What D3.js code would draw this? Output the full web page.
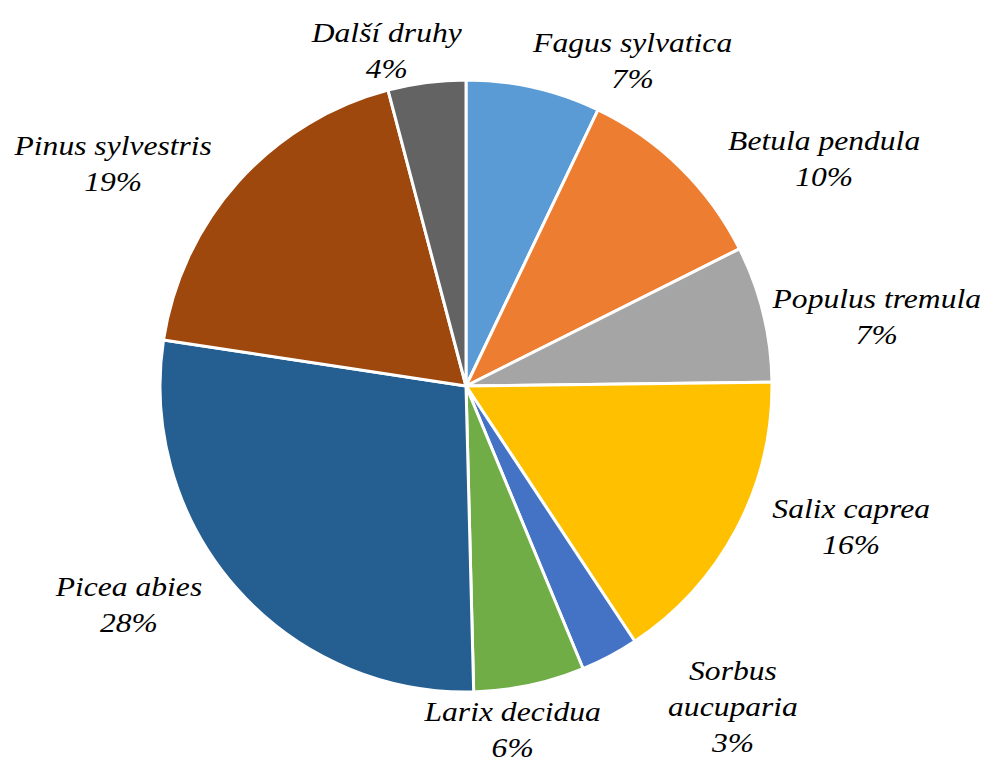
<!DOCTYPE html>
<html>
<head>
<meta charset="utf-8">
<script src="https://cdn.jsdelivr.net/npm/d3@7"></script>
<style>
  body { margin: 0; background: #fff; }
  svg { display: block; }
  .lbl { font-family: "Liberation Serif", "Times New Roman", serif; font-style: italic; font-size: 27px; fill: #000; }
</style>
</head>
<body>
<svg></svg>
<script>
let width = 986;
let height = 762;

// data (clockwise from 12 o'clock)
let species = ['Fagus sylvatica', 'Betula pendula', 'Populus tremula', 'Salix caprea',
               'Sorbus aucuparia', 'Larix decidua', 'Picea abies', 'Pinus sylvestris', 'Další druhy'];
let shares = [7.1, 10.5, 7.2, 15.9, 3.05, 5.85, 27.8, 18.5, 4.1];
let pctLabels = ['7%', '10%', '7%', '16%', '3%', '6%', '28%', '19%', '4%'];
let colors = ['#5B9BD5', '#ED7D31', '#A5A5A5', '#FFC000', '#4472C4', '#70AD47', '#255E91', '#9E480E', '#636363'];

// label nudges from the outer label arc (layout only)
let nudges = [[87, 17], [106, 21], [61, 7], [67, -36], [98, -24], [-28, -17], [-67, -28], [-85, 10], [-33, 13]];

let cx = 466, cy = 386, radius = 306;

let svg = d3.select('svg')
            .attr('width', width)
            .attr('height', height);

let pie = d3.pie().sort(null).value(d => d);
let arcs = pie(shares);

let arc = d3.arc().innerRadius(0).outerRadius(radius);
let labelArc = d3.arc().innerRadius(360).outerRadius(360);

let g = svg.append('g').attr('transform', `translate(${cx},${cy})`);

g.selectAll('path')
  .data(arcs)
  .enter()
  .append('path')
  .attr('d', arc)
  .attr('fill', (d, i) => colors[i])
  .attr('stroke', '#fff')
  .attr('stroke-width', 3)
  .attr('stroke-linejoin', 'round');

let lineH = 36;

// reference text is a little wider than the serif we have, so stretch it
let labels = g.selectAll('text')
  .data(arcs)
  .enter()
  .append('text')
  .attr('class', 'lbl')
  .attr('text-anchor', 'middle')
  .attr('transform', (d, i) => {
    let c = labelArc.centroid(d);
    return `translate(${c[0] + nudges[i][0]},${c[1] + nudges[i][1]}) scale(1.17,1)`;
  });

labels.each(function(d, i) {
  let lines = species[i] === 'Sorbus aucuparia' ? ['Sorbus', 'aucuparia'] : [species[i]];
  lines.push(pctLabels[i]);
  d3.select(this).selectAll('tspan')
    .data(lines)
    .enter()
    .append('tspan')
    .attr('x', 0)
    .attr('y', (t, j) => j * lineH)
    .text(t => t);
});
</script>
</body>
</html>
